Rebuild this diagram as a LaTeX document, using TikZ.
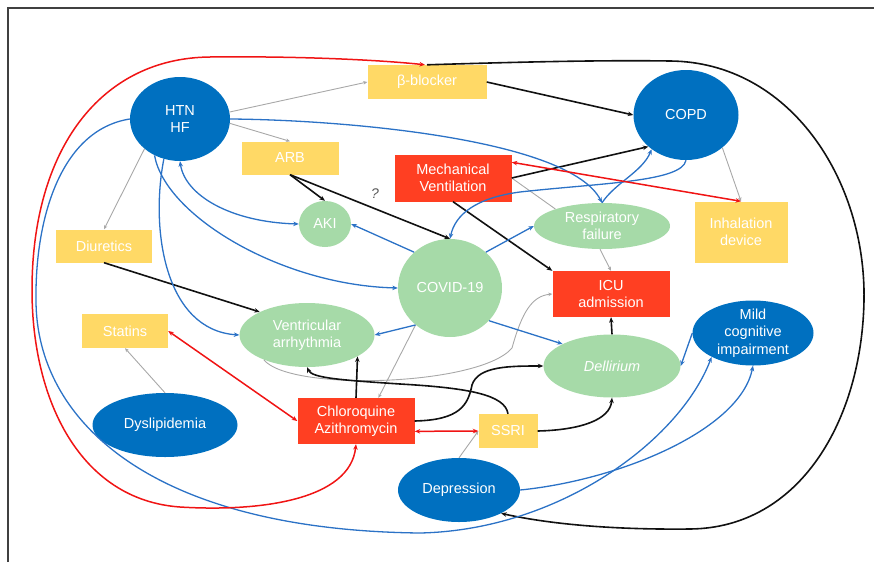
\documentclass[tikz,border=0pt]{standalone}
\usepackage{fontspec}
\setmainfont{Liberation Sans}
\usetikzlibrary{shapes.geometric,arrows.meta}
\definecolor{nblue}{HTML}{0070C0}
\definecolor{ngreen}{HTML}{A6DAA8}
\definecolor{nyellow}{HTML}{FFD966}
\definecolor{nred}{HTML}{FF3F22}
\definecolor{eblue}{HTML}{2B72C6}
\definecolor{egray}{HTML}{A8A8A8}
\definecolor{ered}{HTML}{F01414}
\definecolor{eblack}{HTML}{111111}
\begin{document}
\begin{tikzpicture}[x=1pt,y=-1pt,
  lbl/.style={text=white,align=center,font=\fontsize{14.5}{17.5}\selectfont},
  ell/.style={lbl,ellipse,inner sep=-8pt},
  bluen/.style={ell,fill=nblue},
  greenn/.style={ell,fill=ngreen},
  boxn/.style={lbl,rectangle,inner sep=0pt},
  yellown/.style={boxn,fill=nyellow},
  redn/.style={boxn,fill=nred},
  tip/.style={-{Stealth[length=5.5pt,width=4.5pt]}},
  blk/.style={tip,draw=eblack,line width=1.6pt},
  blu/.style={tip,draw=eblue,line width=1.3pt},
  gry/.style={-{Stealth[length=4pt,width=3.5pt]},draw=egray,line width=0.9pt},
  rdd/.style={{Stealth[length=5.5pt,width=4.5pt]}-{Stealth[length=5.5pt,width=4.5pt]},draw=ered,line width=1.5pt}
]
\useasboundingbox (0,0) rectangle (874,562);
\draw[line width=1.2pt,color=black!75] (8,562) -- (8,8) -- (874,8);

% nodes
\node[bluen,minimum width=100pt,minimum height=84pt] (htn) at (180,119) {HTN\\HF};
\node[yellown,minimum width=119pt,minimum height=34pt] (bb) at (427,82) {β-blocker};
\node[bluen,minimum width=105pt,minimum height=90pt] (copd) at (686,115) {COPD};
\node[yellown,minimum width=97pt,minimum height=33pt] (arb) at (290,158) {ARB};
\node[redn,minimum width=117pt,minimum height=47pt] (mv) at (453,178) {Mechanical\\Ventilation};
\node[greenn,minimum width=52pt,minimum height=46pt] (aki) at (325,224) {AKI};
\node[greenn,minimum width=136pt,minimum height=46pt] (resp) at (602,226) {Respiratory\\failure};
\node[yellown,minimum width=93pt,minimum height=61pt] (inh) at (741,232) {Inhalation\\device};
\node[yellown,minimum width=96pt,minimum height=33pt] (diu) at (104,246) {Diuretics};
\node[greenn,minimum width=104pt,minimum height=98pt] (covid) at (450,288) {COVID-19};
\node[redn,minimum width=117pt,minimum height=46pt] (icu) at (611,294) {ICU\\admission};
\node[yellown,minimum width=86pt,minimum height=34pt] (stat) at (125,331) {Statins};
\node[greenn,minimum width=135pt,minimum height=64pt] (va) at (307,335) {Ventricular\\arrhythmia};
\node[greenn,minimum width=137pt,minimum height=63pt] (del) at (612,366) {\itshape Dellirium};
\node[bluen,minimum width=121pt,minimum height=65pt] (mci) at (753,333) {Mild\\cognitive\\impairment};
\node[bluen,minimum width=145pt,minimum height=64pt] (dys) at (165,425) {Dyslipidemia};
\node[redn,minimum width=117pt,minimum height=46pt] (chl) at (356,421) {Chloroquine\\Azithromycin};
\node[yellown,minimum width=59pt,minimum height=34pt] (ssri) at (508,431) {SSRI};
\node[bluen,minimum width=122pt,minimum height=64pt] (dep) at (459,490) {Depression};
\node[text=black!65,font=\fontsize{14}{16}\selectfont\itshape] (q) at (375,194) {?};

% gray edges
\draw[gry] (htn.8) -- (bb.west);
\draw[gry] (htn.-5) -- (arb.north);
\draw[gry] (htn.-140) -- (diu.north);
\draw[gry] (dys.north) -- (stat.south);
\draw[gry] (dep.north) -- (ssri.west);
\draw[gry] (copd.-42) -- (inh.north);
\draw[draw=egray,line width=0.9pt] (mv.east) -- (resp.160);
\draw[gry] (resp.-95) -- (icu.north);
\draw[gry] (covid.-133) -- (chl.46);
\draw[gry] (va.-150) .. controls (290,392) and (480,386) .. (512,348) .. controls (522,312) and (532,296) .. (icu.west);

% black edges
\draw[blk] (bb.east) -- (copd.west);
\draw[blk] (arb.south) -- (aki.north);
\draw[blk] (arb.south) -- (covid.north);
\draw[blk] (diu.south) -- (va.154);
\draw[blk] (mv.east) -- (copd.-140);
\draw[blk] (mv.south) -- (icu.north west);
\draw[blk] (chl.north) -- (va.-23);
\draw[blk] (chl.east) .. controls (460,420) and (468,405) .. (472,385) .. controls (478,366) and (510,366) .. (del.west);
\draw[blk] (ssri.north) .. controls (505,395) and (470,388) .. (400,384) .. controls (340,380) and (312,378) .. (va.south);
\draw[blk] (ssri.east) .. controls (580,430) and (610,420) .. (del.south);
\draw[blk] (del.north) -- (icu.south);
\draw[blk] (bb.north) .. controls (520,62) and (600,60) .. (670,61) .. controls (790,62) and (866,180) .. (864,300) .. controls (862,420) and (800,528) .. (690,529) .. controls (600,530) and (540,522) .. (dep.-29);

% blue edges
\draw[blu,{Stealth[length=5.5pt,width=4.5pt]}-{Stealth[length=5.5pt,width=4.5pt]}] (htn.south) .. controls (185,195) and (230,222) .. (aki.west);
\draw[blu] (covid.135) -- (aki.east);
\draw[blu] (htn.-125) .. controls (165,215) and (280,285) .. (covid.west);
\draw[blu] (htn.-112) .. controls (150,230) and (165,330) .. (va.west);
\draw[blu] (htn.east) .. controls (350,120) and (570,140) .. (resp.north);
\draw[blu] (copd.south) .. controls (682,182) and (600,183) .. (520,192) .. controls (475,198) and (455,215) .. (covid.north);
\draw[blu] (resp.north) .. controls (615,183) and (642,172) .. (copd.-135);
\draw[blu] (covid.45) -- (resp.west);
\draw[blu] (covid.-133) -- (va.east);
\draw[blu] (covid.-40) -- (del.156);
\draw[blu] (mci.west) -- (del.east);
\draw[blu] (dep.east) .. controls (620,480) and (740,430) .. (mci.south);
\draw[blu] (htn.west) .. controls (60,130) and (35,220) .. (36,300) .. controls (36,420) and (150,530) .. (420,533) .. controls (560,530) and (680,440) .. (mci.-150);

% red edges
\draw[rdd] (stat.east) -- (chl.west);
\draw[rdd] (chl.-10) -- (ssri.west);
\draw[rdd] (mv.15) -- (inh.north);
\draw[rdd] (chl.south) .. controls (350,500) and (260,512) .. (180,507) .. controls (80,500) and (32,400) .. (32,290) .. controls (32,150) and (100,58) .. (210,57) .. controls (300,56) and (380,60) .. ([xshift=-2pt]bb.north);
\end{tikzpicture}
\end{document}
